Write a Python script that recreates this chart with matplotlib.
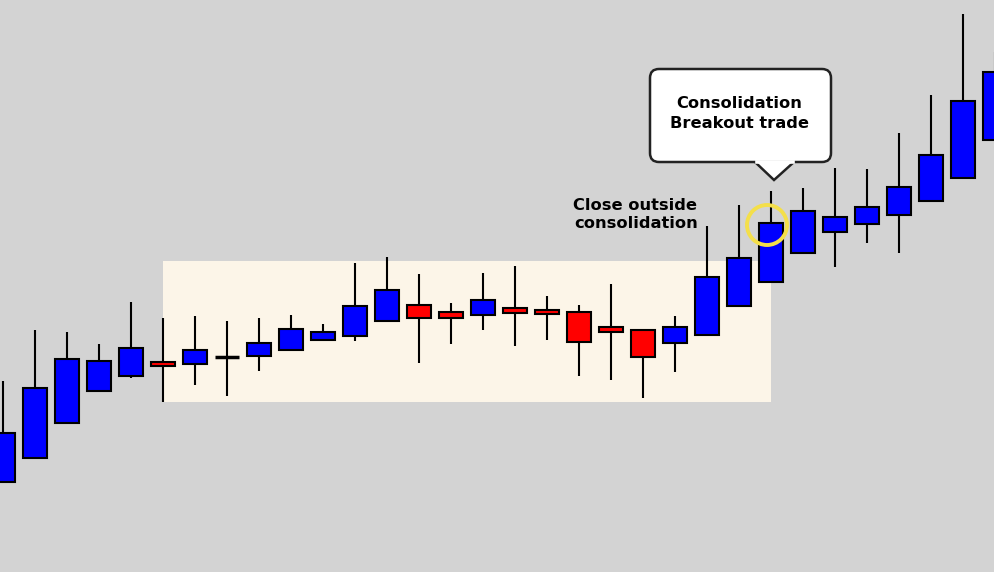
import matplotlib.pyplot as plt
from matplotlib.patches import Rectangle, FancyBboxPatch, Polygon, Circle

# candle data (arbitrary price units)
opens = [90, 114, 149, 181, 196, 210, 208, 215, 216, 222, 232, 236, 251, 267, 260, 257,
         264, 262, 260, 245, 242, 229, 237, 266, 290, 319, 340, 348, 357, 371, 394, 432]
highs = [191, 242, 240, 228, 270, 254, 256, 251, 254, 257, 248, 309, 315, 298, 269, 299,
         306, 276, 267, 288, 242, 256, 346, 367, 381, 384, 404, 403, 439, 477, 558, 520]
lows = [90, 114, 149, 181, 194, 170, 187, 176, 201, 222, 232, 231, 251, 209, 228, 242,
        226, 232, 196, 192, 174, 200, 237, 266, 290, 319, 305, 329, 319, 371, 394, 432]
closes = [139, 184, 213, 211, 224, 206, 222, 215, 229, 243, 240, 266, 282, 254, 254, 272,
          259, 258, 230, 240, 215, 245, 295, 314, 349, 361, 355, 365, 385, 417, 471, 500]

# consolidation zone: candle range and price range
zone_start, zone_end = 5, 24
zone_low, zone_high = 170, 311

BG = '#d3d3d3'
ZONE = '#fcf5e8'
UP = '#0000ff'
DOWN = '#ff0000'

fig = plt.figure(figsize=(9.95, 5.72), dpi=100)
fig.patch.set_facecolor(BG)
ax = fig.add_axes([0, 0, 1, 1])
ax.set_facecolor(BG)
ax.set_xlim(-3 / 32, 31.0)
ax.set_ylim(0, 572)
ax.axis('off')

ax.add_patch(Rectangle((zone_start, zone_low), zone_end - zone_start, zone_high - zone_low,
                       facecolor=ZONE, edgecolor='none', zorder=1))

w = 0.75
for i, (o, h, l, c) in enumerate(zip(opens, highs, lows, closes)):
    color = UP if c > o else DOWN
    ax.plot([i, i], [l, h], color='black', lw=1.5, zorder=2, solid_capstyle='butt')
    if c == o:
        ax.plot([i - w / 2, i + w / 2], [o, o], color='black', lw=2.5, zorder=3,
                solid_capstyle='butt')
    else:
        ax.add_patch(Rectangle((i - w / 2, min(o, c)), w, abs(c - o), facecolor=color,
                               edgecolor='black', lw=1.5, zorder=3))

# annotations in pixel space
ov = fig.add_axes([0, 0, 1, 1])
ov.set_xlim(0, 995)
ov.set_ylim(572, 0)
ov.axis('off')
ov.patch.set_alpha(0)

ov.add_patch(FancyBboxPatch((650, 69), 181, 93, boxstyle='round,pad=0,rounding_size=9',
                            facecolor='white', edgecolor='#222222', lw=1.8, zorder=5))
ov.add_patch(Polygon([(755, 162), (774, 180), (794, 162)], closed=False,
                     facecolor='white', edgecolor='#222222', lw=1.8, zorder=6))
ov.plot([756.5, 792.5], [162, 162], color='white', lw=2.6, zorder=7)

font = dict(family=['DejaVu Sans'], fontweight='bold', fontsize=11.7,
            color='black', ha='center', va='center', zorder=8)
ov.text(739, 104, 'Consolidation', **font)
ov.text(739, 123, 'Breakout trade', **font)
ov.text(635, 205, 'Close outside', **font)
ov.text(636, 224, 'consolidation', **font)

ov.add_patch(Circle((767, 225), 20, facecolor='none', edgecolor='#f4df4a', lw=2.8, zorder=9))

fig.savefig('out.png', dpi=100, facecolor=BG)
